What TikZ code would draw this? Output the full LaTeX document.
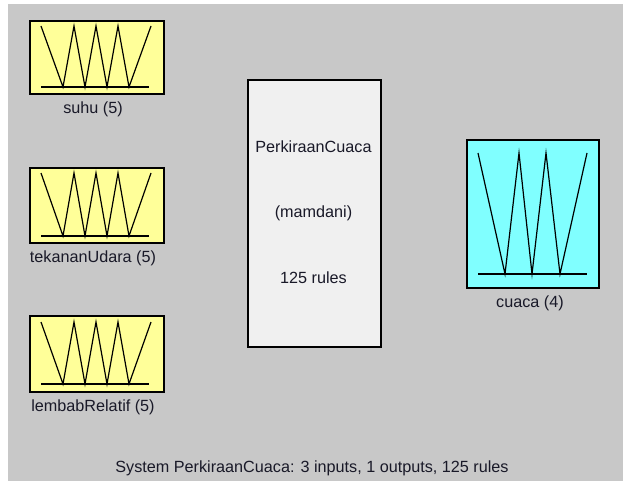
\documentclass[tikz,border=0pt]{standalone}
\usepackage{fontspec}
\setmainfont{Liberation Sans}
\pgfdeclarelayer{bg}
\pgfsetlayers{bg,main}
\definecolor{bggray}{RGB}{200,200,200}
\definecolor{linegray}{RGB}{178,178,178}
\definecolor{inyellow}{RGB}{255,255,153}
\definecolor{outcyan}{RGB}{128,255,255}
\definecolor{sysfill}{RGB}{240,240,240}
\definecolor{txtcol}{RGB}{25,25,40}
\tikzset{
  varbox/.style={draw=black, line width=1.8pt, rectangle, inner sep=0pt, anchor=north west},
  inbox/.style={varbox, fill=inyellow, minimum width=134pt},
  outbox/.style={varbox, fill=outcyan, minimum width=132pt, minimum height=148pt},
  sysbox/.style={varbox, fill=sysfill, minimum width=133pt, minimum height=267pt},
  mf/.style={draw=black, line width=1.2pt, line join=miter},
  lbl/.style={font=\fontsize{16.2}{18}\selectfont, text=txtcol, inner sep=0pt},
  conn/.style={draw=linegray, line width=3.5pt}
}
\begin{document}
\begin{tikzpicture}[x=1pt,y=-1pt]
\useasboundingbox (0,0) rectangle (623,481);
\fill[white] (0,0) rectangle (623,481);
\fill[bggray] (8,4) rectangle (623,481);

% input boxes
\node[inbox, minimum height=73pt] (s1) at (29,20) {};
\node[inbox, minimum height=75pt] (s2) at (29,167) {};
\node[inbox, minimum height=76pt] (s3) at (29,315) {};
% system box
\node[sysbox] (sys) at (247,79) {};
% output box
\node[outbox] (out) at (466,139) {};

% membership functions (inputs)
\begin{scope}[shift={(s1.north west)}]
  \draw[mf] (12,6)--(34,67)--(45,6)--(56,67)--(67,6)--(78,67)--(89,6)--(100,67)--(122,6);
  \draw[mf] (12,67)--(120,67);
\end{scope}
\begin{scope}[shift={(s2.north west)}]
  \draw[mf] (12,6)--(34,69)--(45,6)--(56,69)--(67,6)--(78,69)--(89,6)--(100,69)--(122,6);
  \draw[mf] (12,69)--(120,69);
\end{scope}
\begin{scope}[shift={(s3.north west)}]
  \draw[mf] (12,7)--(34,69)--(45,7)--(56,69)--(67,7)--(78,69)--(89,7)--(100,69)--(122,7);
  \draw[mf] (12,69)--(120,69);
\end{scope}
% membership functions (output)
\begin{scope}[shift={(out.north west)}]
  \draw[mf] (12,14)--(39,135)--(53,14)--(66,135)--(80,14)--(94,135)--(121,14);
  \draw[mf] (12,135)--(121,135);
\end{scope}

% labels
\node[lbl] (l1) at (93,109) {suhu (5)};
\node[lbl] (l2) at (93,258) {tekananUdara (5)};
\node[lbl] (l3) at (93,407) {lembabRelatif (5)};
\node[lbl] (lo) at (530,303) {cuaca (4)};
\node[lbl] (t1) at (313.5,147) {PerkiraanCuaca};
\node[lbl] (t2) at (313.5,213) {(mamdani)};
\node[lbl] (t3) at (313.5,278) {125 rules};
\node[lbl] (cap) at (312,468) {System PerkiraanCuaca: 3 inputs, 1 outputs, 125 rules};

% connectors
\begin{pgfonlayer}{bg}
  \draw[conn] ([yshift=-4pt]s1.east) -- (sys.west |- t1);
  \draw[conn] (s2.east) -- (sys.west |- t2);
  \draw[conn] (s3.east) -- (sys.west |- t3);
  \draw[conn] (sys.east |- t2) -- (out.west |- t2);
\end{pgfonlayer}
\end{tikzpicture}
\end{document}
